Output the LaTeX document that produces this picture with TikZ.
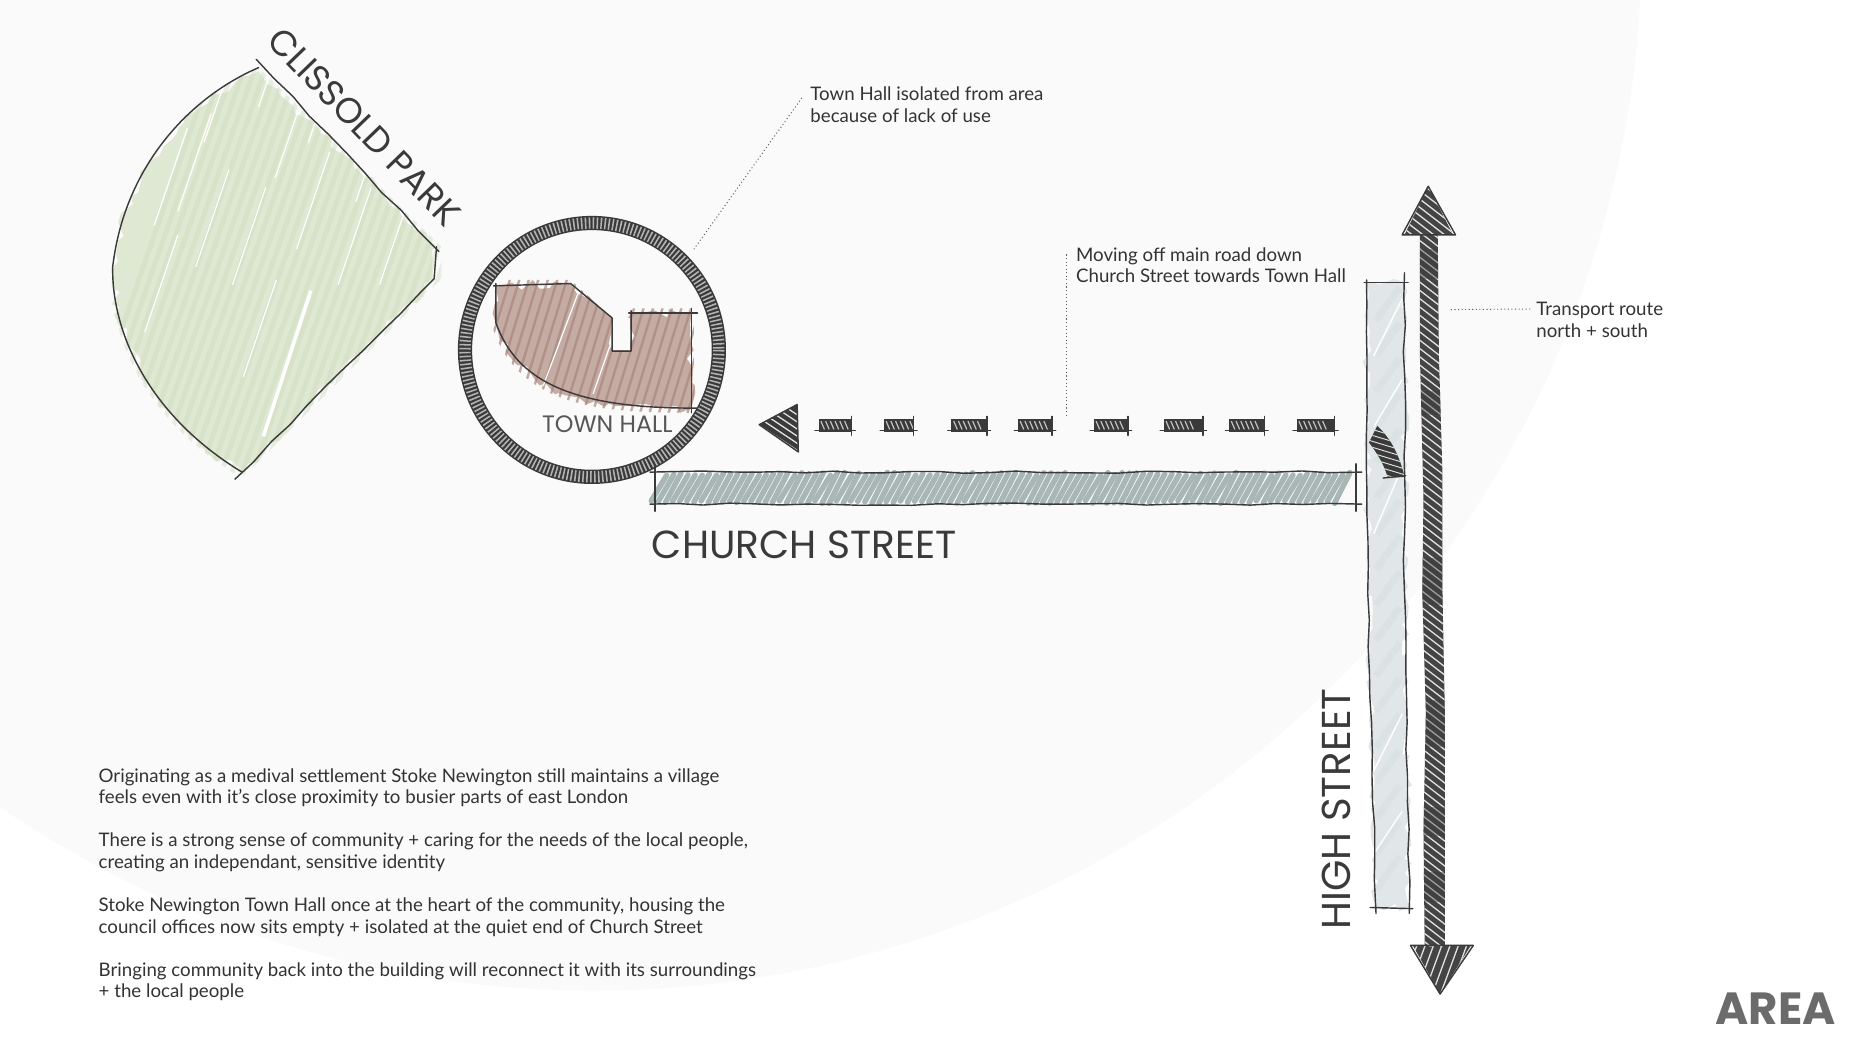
\documentclass[tikz,border=0pt]{standalone}
\usepackage{fontspec}
\setmainfont{Lato}
\newfontfamily\stencilfont{Poppins}
\usetikzlibrary{
    decorations.pathmorphing
}

\definecolor{paper}{HTML}{FAFAFA}
\definecolor{ink}{HTML}{3A3A3A}
\definecolor{textgrey}{HTML}{333333}
\definecolor{parkgreen}{HTML}{DFE8D2}
\definecolor{parkstroke}{HTML}{CFDBBE}
\definecolor{hallbrown}{HTML}{C4ACA4}
\definecolor{hallstroke}{HTML}{A9867B}
\definecolor{churchgrey}{HTML}{9AABAB}
\definecolor{highgrey}{HTML}{E1E7E8}
\definecolor{highstroke}{HTML}{D8E0E1}

\tikzset{
    sketch/.style={draw=ink, line width=1.2pt, line cap=round, line join=round},
    wobble/.style={decorate, decoration={random steps, segment length=22pt, amplitude=1pt}},
    jagged/.style={decorate, decoration={random steps, segment length=7pt, amplitude=4pt}},
    leader/.style={draw=ink!80, line width=.8pt, dash pattern=on .9pt off 2.1pt},
    note/.style={font=\fontsize{15.75}{18.2}\selectfont, text=textgrey, align=left, anchor=west, inner sep=0pt},
    stencil/.style={font=\stencilfont\fontsize{33}{33}\selectfont, text=ink, inner sep=0pt},
    darkfill/.style={fill=ink!95},
    whitehatch/.style={draw=white!85!ink, line width=1.1pt}
}

\begin{document}
\begin{tikzpicture}[x=1pt,y=-1pt]

\pgfmathsetseed{7}
\useasboundingbox (0,0) rectangle (1568,882);
\fill[white] (0,0) rectangle (1568,882);

% Background disc
\begin{scope}
\clip (0,0) rectangle (1568,882);
\fill[paper] (500,-49) circle [radius=884];
\end{scope}

% Park
\fill[parkgreen, jagged] (218,60) .. controls (160,85) and (105,140) .. (96,225)
    .. controls (95,280) and (125,350) .. (204,398) -- (366,235) -- (368,208) -- cycle;
\begin{scope}
\clip (218,57) .. controls (160,82) and (102,140) .. (93,225)
    .. controls (92,285) and (122,355) .. (204,403) -- (372,235) -- (372,208) -- cycle;
\foreach \x in {60,69,...,420}
    \draw[parkstroke, line width=4pt, opacity=.45] (\x,400) -- (\x+125,40);
\foreach \a/\b in {130/190,150/178,172/120,196/240,232/150,250/210,285/240,218/90,165/225,320/240,205/318,122/280,260/120,300/170}
    \draw[white, line width=1pt] (\a,\b) -- ++(28,-82);
\draw[white, line width=3pt] (222,368) -- (262,245);
\end{scope}
\draw[sketch] (218,57) .. controls (160,82) and (105,140) .. (95,225)
    .. controls (94,280) and (125,350) .. (204,398);
\draw[sketch, wobble] (198,404) -- (366,235) -- (368,208);
\draw[sketch, wobble] (216,50) -- (370,212);

% Town hall building
\fill[hallbrown, jagged] (418,241) -- (481,239) -- (516,268) -- (516,296) -- (532,296) -- (532,264)
    -- (583,264) -- (583,344) .. controls (510,344) and (440,340) .. (418,272) -- cycle;
\begin{scope}
\clip (414,236) -- (481,236) -- (516,268) -- (516,296) -- (532,296) -- (532,260)
    -- (585,260) -- (585,348) .. controls (510,348) and (435,345) .. (414,272) -- cycle;
\foreach \x in {395,403,...,600}
    \draw[hallstroke, line width=2pt, opacity=.7] (\x,350) -- (\x+36,232);
\draw[white, line width=1pt] (458,325) -- (490,240);
\draw[white, line width=1pt] (500,332) -- (514,292);
\end{scope}
\fill[paper] (516.6,268) rectangle (531.4,295.4);
\draw[sketch] (418,239) -- (418,272) .. controls (435,320) and (480,345) .. (590,344);
\draw[sketch] (416,241) -- (481,239) -- (516,268) -- (516,296) -- (532,296) -- (532,262);
\draw[sketch] (530,264) -- (588,264);
\draw[sketch] (583,260) -- (583,348);

% Town hall ring
\draw[ink, line width=12pt] (499,295) circle [radius=107];
\draw[white!62!ink, line width=9.5pt, dash pattern=on 1.3pt off 2pt] (499,295) circle [radius=107];

% Church Street
\foreach \x in {549,555,...,1128} {
    \pgfmathsetmacro\jitter{rnd*4}
    \draw[churchgrey, line width=4.6pt, line cap=round, opacity=.85] (\x,422+\jitter*.6) -- (\x+13,401-\jitter*.7);
}
\draw[sketch, wobble] (548,398) -- (1148,398);
\draw[sketch, wobble] (548,425) -- (1148,425);
\draw[sketch] (552,393) -- (552,431);
\draw[sketch] (1143,391) -- (1143,431);

% Dashed route
\foreach \a/\b in {690/718,745/770,802/832,858/887,922/951,981/1014,1036/1066,1093/1125} {
    \fill[ink] (\a,353) rectangle (\b,364);
    \foreach \i in {1,...,6}
        \draw[white!70!ink, line width=1pt] ({\a+\i*4-2},355) -- ({\a+\i*4+1},362);
    \draw[sketch] (\b,351) -- (\b,367);
    \draw[sketch] (\a-3,363) -- (\b+3,363);
}

% Arrow on dashed route
\fill[ink] (640,358) -- (672,341) -- (673,381) -- cycle;
\begin{scope}
\clip (640,358) -- (672,341) -- (673,381) -- cycle;
\foreach \y in {325,331,...,395}
    \draw[whitehatch] (635,\y) -- (680,\y+30);
\end{scope}
\draw[sketch] (640,358) -- (672,341) -- (673,381) -- cycle;

% High Street
\fill[highgrey, jagged] (1152,238) -- (1153,500) -- (1160,765) -- (1188,765) -- (1184,500) -- (1184,238) -- cycle;
\foreach \y in {270,300,...,760}
    \draw[highstroke, line width=6pt, opacity=.6] (1160,\y) -- ++(20,-28);
\foreach \y/\l in {300/60,360/50,450/70,650/60,720/45}
    \draw[white, line width=1.2pt] (1158,\y) -- ++(24,-\l*.8);
\draw[sketch, wobble] (1152,236) -- (1153,500) -- (1160,770);
\draw[sketch, wobble] (1184,230) -- (1184,500) -- (1188,770);
\draw[sketch] (1150,238) -- (1187,238);
\draw[sketch] (1155,765) -- (1191,766);

% Turning arrow
\fill[ink] (1161,359) .. controls (1173,370) and (1180,385) .. (1184,402) -- (1170,403) .. controls (1167,392) and (1161,382) .. (1154,373) -- cycle;
\begin{scope}
\clip (1161,359) .. controls (1173,370) and (1180,385) .. (1184,402) -- (1170,403) .. controls (1167,392) and (1161,382) .. (1154,373) -- cycle;
\foreach \y in {335,340,...,410}
    \draw[whitehatch, line width=.8pt] (1150,\y) -- (1190,\y+12);
\end{scope}
\draw[sketch] (1166,403) -- (1185,401);

% Transport route
\path[darkfill] (1197,198) -- (1197,300) -- (1200,420) -- (1199,500) -- (1202,600) -- (1200,700) -- (1201,798)
    -- (1218,798) -- (1218,600) -- (1216,500) -- (1216,400) -- (1213,300) -- (1212,198) -- cycle;
\path[darkfill] (1184,198) -- (1204,157) -- (1225,198) -- cycle;
\path[darkfill] (1191,797) -- (1240,797) -- (1214,838) -- cycle;
\begin{scope}
\clip (1184,198) -- (1204,157) -- (1225,198) -- (1212,198) -- (1213,300) -- (1216,400) -- (1216,500) -- (1218,600)
    -- (1218,798) -- (1201,798) -- (1200,700) -- (1202,600) -- (1199,500) -- (1200,420) -- (1197,300) -- (1197,198) -- cycle;
\foreach \y in {130,137,...,800}
    \draw[whitehatch] (1175,\y) -- (1240,\y+50);
\foreach \p/\q in {210/235,330/350,470/510,590/630,680/705,735/760}
    \fill[ink, opacity=.4] (1190,\p) rectangle (1225,\q);
\end{scope}
\begin{scope}
\clip (1191,797) -- (1240,797) -- (1214,838) -- cycle;
\foreach \x in {1190,1197,...,1260}
    \draw[whitehatch] (\x,790) -- (\x-22,850);
\end{scope}
\draw[sketch] (1182,198) -- (1204,157) -- (1227,198) -- cycle;
\draw[sketch] (1189,797) -- (1242,797) -- (1214,838) -- cycle;

% Labels on the plan
\node[stencil, rotate=-46, font=\stencilfont\fontsize{30}{30}\selectfont] (parklabel) at (307,107) {CLISSOLD PARK};
\node[stencil, font=\stencilfont\fontsize{20}{20}\selectfont, text=ink!85] (halllabel) at (512,358) {TOWN HALL};
\node[stencil] (churchlabel) at (678,459) {CHURCH STREET};
\node[stencil, rotate=90, font=\stencilfont\fontsize{34}{34}\selectfont] (highlabel) at (1127,682) {HIGH STREET};
\node[stencil, font=\stencilfont\bfseries\fontsize{38}{38}\selectfont, text=ink!75] (arealabel) at (1497,850) {AREA};

% Notes
\node[note] (isolated) at (683,88.5) {Town Hall isolated from area\\because of lack of use};
\node[note] (moving) at (907,223.5) {Moving off main road down\\Church Street towards Town Hall};
\node[note] (route) at (1295,269.5) {Transport route\\north + south};

\coordinate (hallpoint) at (585,210);
\coordinate (churchpoint) at (899,350);
\coordinate (arrowpoint) at (1222,261);
\draw[leader] ([shift={(-7,-6)}]isolated.west) -- (hallpoint);
\draw[leader] ([shift={(-8,-9)}]moving.west) -- (churchpoint);
\draw[leader] ([shift={(-5,-9)}]route.west) -- (arrowpoint);

% Text block
\node[note] (para1) at (83,664) {Originating as a medival settlement Stoke Newington still maintains a village\\feels even with it's close proximity to busier parts of east London};
\node[note] (para2) at (83,718.5) {There is a strong sense of community + caring for the needs of the local people,\\creating an independant, sensitive identity};
\node[note] (para3) at (83,773) {Stoke Newington Town Hall once at the heart of the community, housing the\\council offices now sits empty + isolated at the quiet end of Church Street};
\node[note] (para4) at (83,827.5) {Bringing community back into the building will reconnect it with its surroundings\\+ the local people};

\end{tikzpicture}
\end{document}
